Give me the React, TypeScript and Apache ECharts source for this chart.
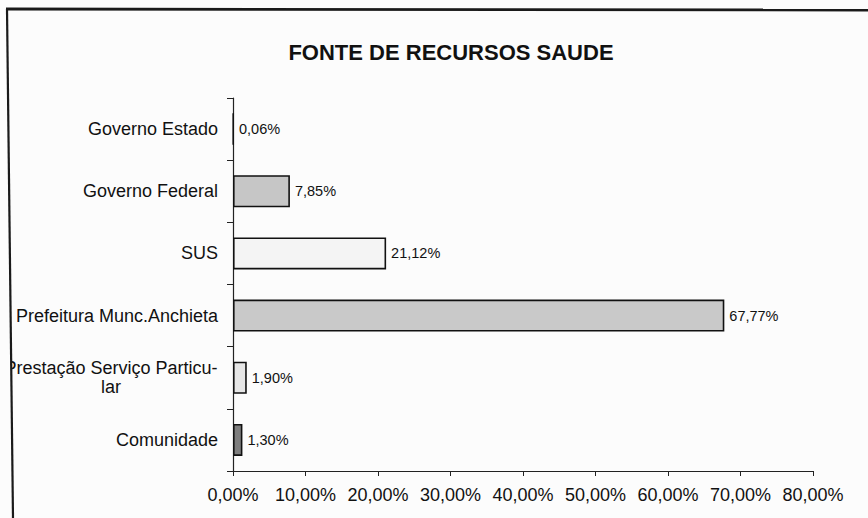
import React, { useEffect, useRef } from "react";
import * as echarts from "echarts";

const titleText = "FONTE DE RECURSOS SAUDE";
const categories = [
  "Governo Estado",
  "Governo Federal",
  "SUS",
  "Prefeitura Munc.Anchieta",
  "Prestação Serviço Particu-\nlar",
  "Comunidade",
];
const values = [0.06, 7.85, 21.12, 67.77, 1.9, 1.3];
const barColors = ["#333333", "#c6c6c6", "#f4f4f4", "#c9c9c9", "#e6e6e6", "#7e7e7e"];
const axisMax = 80;
const axisInterval = 10;

const fmt = (v: number) => v.toFixed(2).replace(".", ",") + "%";

export default function App() {
  const ref = useRef<HTMLDivElement>(null);
  useEffect(() => {
    if (!ref.current) return;
    const chart = echarts.init(ref.current, null, { renderer: "svg" });
    const font = "'Liberation Sans', Arial, sans-serif";
    chart.setOption({
      animation: false,
      backgroundColor: "#fcfcfc",
      title: {
        text: titleText,
        left: 446,
        top: 36,
        textAlign: "center",
        textStyle: { fontFamily: font, fontSize: 22, fontWeight: "bold", color: "#111" },
      },
      grid: { left: 233, right: 55, top: 98, bottom: 47, containLabel: false },
      xAxis: {
        type: "value",
        min: 0,
        max: axisMax,
        interval: axisInterval,
        axisLine: { show: true, lineStyle: { color: "#222", width: 1.2 } },
        axisTick: { show: true, length: 5, lineStyle: { color: "#222" } },
        splitLine: { show: false },
        axisLabel: {
          formatter: (v: number) => fmt(v),
          fontFamily: font,
          fontSize: 18,
          color: "#111",
          margin: 15,
        },
      },
      yAxis: {
        type: "category",
        data: categories,
        inverse: true,
        axisLine: { show: true, lineStyle: { color: "#222", width: 1.2 } },
        axisTick: { show: true, length: 6, lineStyle: { color: "#222" } },
        axisLabel: {
          fontFamily: font,
          fontSize: 18,
          color: "#111",
          margin: 15,
          lineHeight: 19,
          formatter: (v: string) =>
            v.indexOf("\n") >= 0
              ? v
                  .split("\n")
                  .map((s) => `{c|${s}}`)
                  .join("\n")
              : v,
          rich: {
            c: {
              width: 214,
              align: "center",
              fontFamily: font,
              fontSize: 18,
              color: "#111",
              lineHeight: 19,
            },
          },
        },
      },
      series: [
        {
          type: "bar",
          barWidth: 32,
          data: values.map((v, i) => ({
            value: v,
            itemStyle: { color: barColors[i], borderColor: "#111", borderWidth: 1.6 },
          })),
          label: {
            show: true,
            position: "right",
            distance: 5,
            formatter: (p: any) => fmt(p.value),
            fontFamily: font,
            fontSize: 14.5,
            color: "#111",
          },
        },
      ],
      graphic: [
        {
          type: "polygon",
          z: 100,
          silent: true,
          shape: { points: [[0, 0], [7, 0], [7, 9], [13, 518], [0, 518]] },
          style: { fill: "#fcfcfc" },
        },
        {
          type: "line",
          z: 101,
          silent: true,
          shape: { x1: 7, y1: 9, x2: 13, y2: 518 },
          style: { stroke: "#1a1a1a", lineWidth: 2.2 },
        },
        {
          type: "line",
          z: 101,
          silent: true,
          shape: { x1: 6, y1: 9, x2: 868, y2: 10 },
          style: { stroke: "#1a1a1a", lineWidth: 2.8 },
        },
      ],
    });
    return () => chart.dispose();
  }, []);
  return (
    <div
      ref={ref}
      style={{ position: "fixed", left: 0, top: 0, width: 868, height: 518 }}
    />
  );
}
